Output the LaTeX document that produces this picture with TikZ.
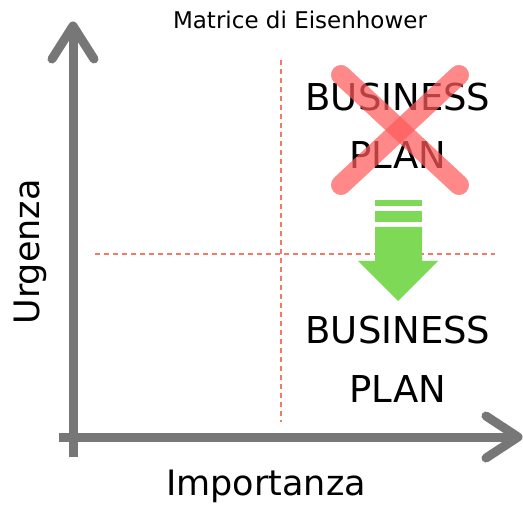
\documentclass[tikz,border=0pt]{standalone}
\usepackage{fontspec}
\setmainfont{DejaVu Sans}
\usetikzlibrary{arrows.meta}
\definecolor{axisgray}{HTML}{777777}
\definecolor{dashred}{HTML}{F27A66}
\definecolor{xred}{HTML}{FF5A5A}
\definecolor{arrgreen}{HTML}{7ED957}
\tikzset{
  axis/.style={draw=axisgray, line width=9pt},
  axishead/.style={draw=axisgray, line width=9pt, line cap=round, line join=round},
  quad/.style={draw=dashred, line width=1.6pt, dash pattern=on 5pt off 4pt},
  crossline/.style={draw=xred, opacity=0.72, line width=20pt, line cap=round},
  bigtxt/.style={font=\fontsize{37}{40}\selectfont, inner sep=0pt},
  labtxt/.style={font=\fontsize{35}{38}\selectfont, inner sep=0pt},
}
\begin{document}
\begin{tikzpicture}[x=1pt,y=-1pt]
\useasboundingbox (0,0) rectangle (523,508);
% dashed quadrant lines
\coordinate (hl) at (95,254);
\coordinate (hr) at (495,254);
\coordinate (vt) at (281,60);
\coordinate (vb) at (281,422);
\draw[quad] (hl) -- (hr);
\draw[quad] (vt) -- (vb);
% axes
\coordinate (ytop) at (73,26);
\coordinate (ybot) at (73,457);
\coordinate (xl) at (59,437);
\coordinate (xr) at (518,437);
\draw[axis] (ybot) -- (ytop);
\draw[axis] (xl) -- (xr);
\draw[axishead] (52,59) -- (ytop) -- (94,59);
\draw[axishead] (486,416) -- (xr) -- (486,458);
% texts
\node[font=\fontsize{23}{25}\selectfont, inner sep=0pt] (title) at (300,20) {Matrice di Eisenhower};
\node[labtxt, rotate=90] (urg) at (30,252) {Urgenza};
\node[labtxt] (imp) at (266,486) {Importanza};
\node[bigtxt] (b1) at (398,97) {BUSINESS};
\node[bigtxt] (p1) at (398,155) {PLAN};
\node[bigtxt] (b2) at (398,330) {BUSINESS};
\node[bigtxt] (p2) at (398,389) {PLAN};
% red cross
\coordinate (c1) at (341,75);
\coordinate (c2) at (459,185);
\coordinate (c3) at (459,75);
\coordinate (c4) at (341,185);
\draw[crossline] (c1) -- (c2);
\draw[crossline] (c3) -- (c4);
% green arrow
\fill[arrgreen] (375,200) rectangle (422,206);
\fill[arrgreen] (375,211) rectangle (422,222);
\fill[arrgreen] (375,227) -- (422,227) -- (422,261) -- (438,261) -- (398,301) -- (358,261) -- (375,261) -- cycle;
\end{tikzpicture}
\end{document}
